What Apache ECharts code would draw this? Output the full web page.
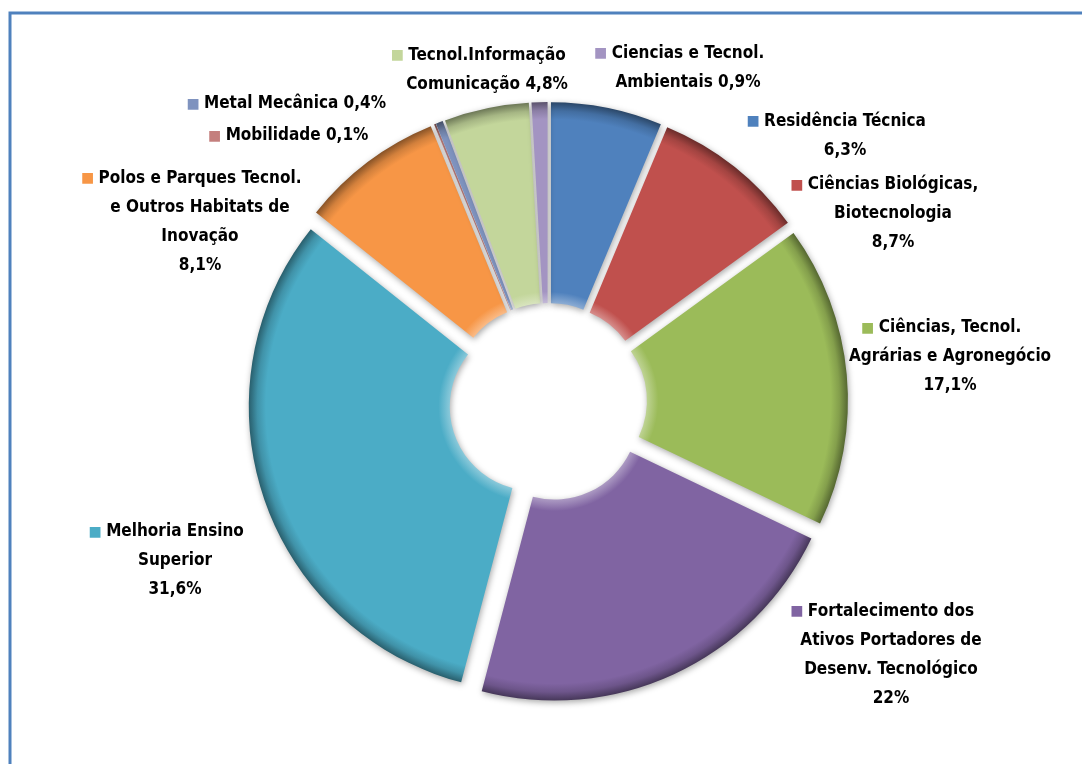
<!DOCTYPE html>
<html>
<head>
<meta charset="utf-8">
<script src="https://cdn.jsdelivr.net/npm/echarts@6/dist/echarts.min.js"></script>
<style>
  html, body { margin: 0; padding: 0; background: #fff; }
  #chart { width: 1082px; height: 764px; }
</style>
</head>
<body>
<div id="chart"></div>
<script>
// categorias (com quebras de linha como no rótulo original)
var categories = [
  'Residência Técnica',
  'Ciências Biológicas,\nBiotecnologia',
  'Ciências, Tecnol.\nAgrárias e Agronegócio',
  'Fortalecimento dos\nAtivos Portadores de\nDesenv. Tecnológico',
  'Melhoria Ensino\nSuperior',
  'Polos e Parques Tecnol.\ne Outros Habitats de\nInovação',
  'Mobilidade',
  'Metal Mecânica',
  'Tecnol.Informação\nComunicação',
  'Ciencias e Tecnol.\nAmbientais'
]
// percentuais (%)
var values = [6.3, 8.7, 17.1, 22, 31.6, 8.1, 0.1, 0.4, 4.8, 0.9]
// percentual na mesma linha do último texto?
var pctInline = [false, false, false, false, false, false, true, true, true, true]

var colors = ['#4F81BD', '#C0504D', '#9BBB59', '#8064A2', '#4BACC6',
  '#F79646', '#C47F7D', '#7F93BF', '#C3D69B', '#A394C2']

// posição (centro) de cada bloco de rótulo
var labelPos = [
  [845, 136], [893, 214], [950, 357], [891, 655], [175, 561],
  [200, 222], [297, 136], [295, 104], [487, 70], [688, 68]
]

var cx = 548, cy = 402, rIn = 84, rOut = 285

function shade(hex, f) {
  var n = parseInt(hex.slice(1), 16)
  var r = (n >> 16) & 255, g = (n >> 8) & 255, b = n & 255
  function c(v) {
    v = f < 0 ? v * (1 + f) : v + (255 - v) * f
    return Math.round(Math.max(0, Math.min(255, v)))
  }
  return 'rgb(' + c(r) + ',' + c(g) + ',' + c(b) + ')'
}

// gradiente radial p/ imitar o chanfro 3D
function bevel(hex) {
  var a = rIn / rOut
  return {
    type: 'radial', x: cx, y: cy, r: rOut, global: true,
    colorStops: [
      { offset: 0, color: hex },
      { offset: a, color: shade(hex, 0.35) },
      { offset: a + 0.04, color: hex },
      { offset: 0.94, color: hex },
      { offset: 0.97, color: shade(hex, -0.15) },
      { offset: 1, color: shade(hex, -0.45) }
    ]
  }
}

var fontFamily = '"DejaVu Sans Condensed", "Liberation Sans Narrow", sans-serif'
var rich = {
  t: { fontFamily: fontFamily, fontSize: 17, fontWeight: 'bold', color: '#000', lineHeight: 29 },
  sp: { width: 22 }
}
colors.forEach(function (c, i) {
  rich['m' + i] = { fontFamily: 'DejaVu Sans', fontSize: 14, color: c, width: 22, lineHeight: 29 }
})

var data = categories.map(function (name, i) {
  return {
    name: name,
    value: values[i],
    selected: true,
    itemStyle: { color: bevel(colors[i]) }
  }
})

function labelText(params) {
  var i = params.dataIndex
  var pct = String(values[i]).replace('.', ',') + '%'
  var lines = categories[i].split('\n')
  if (pctInline[i]) lines[lines.length - 1] += ' ' + pct
  else lines.push(pct)
  return lines.map(function (l, k) {
    if (k === 0) return '{m' + i + '|■}{t|' + l + '}{sp|}'
    return '{t|' + l + '}'
  }).join('\n')
}

var chart = echarts.init(document.getElementById('chart'))
chart.setOption({
  backgroundColor: '#fff',
  animation: false,
  graphic: [{
    type: 'rect',
    shape: { x: 10, y: 13, width: 1200, height: 900 },
    style: { fill: null, stroke: '#4F81BD', lineWidth: 3 }
  }],
  series: [
    {
      // fatias destacadas
      type: 'pie',
      center: [cx, cy],
      radius: [rIn, rOut],
      startAngle: 90,
      clockwise: true,
      selectedMode: 'multiple',
      selectedOffset: 15,
      data: data,
      itemStyle: {
        shadowBlur: 6,
        shadowColor: 'rgba(0,0,0,0.35)',
        shadowOffsetX: 1,
        shadowOffsetY: 2
      },
      emphasis: { disabled: true },
      label: { show: false },
      labelLine: { show: false }
    },
    {
      // só os rótulos
      type: 'pie',
      silent: true,
      center: [cx, cy],
      radius: [rIn, rOut],
      startAngle: 90,
      clockwise: true,
      avoidLabelOverlap: false,
      data: categories.map(function (name, i) { return { name: name, value: values[i] } }),
      itemStyle: { color: 'rgba(0,0,0,0)' },
      emphasis: { disabled: true },
      label: {
        show: true,
        position: 'outside',
        formatter: labelText,
        rich: rich
      },
      labelLine: { show: false },
      labelLayout: function (params) {
        var p = labelPos[params.dataIndex]
        return { x: p[0], y: p[1], align: 'center', verticalAlign: 'middle' }
      }
    }
  ]
})
</script>
</body>
</html>
